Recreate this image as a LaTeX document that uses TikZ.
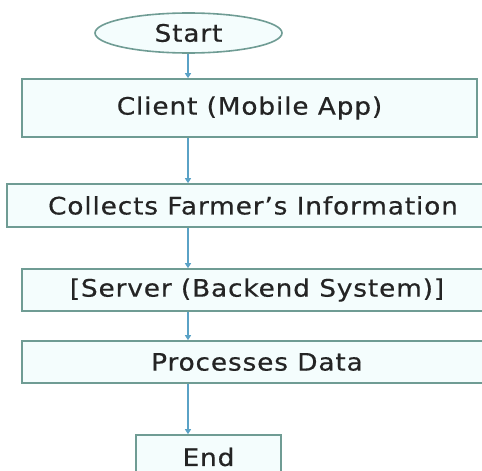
\documentclass[tikz,border=0pt]{standalone}
\usepackage{fontspec}
\setmainfont{DejaVu Sans}[LetterSpace=3.5,FakeStretch=1.1,FakeBold=0.5]
\usetikzlibrary{arrows.meta,shapes.geometric}
\definecolor{edgec}{HTML}{6F9C94}
\definecolor{fillc}{HTML}{F4FDFD}
\definecolor{arrc}{HTML}{5AA2C6}
\definecolor{txtc}{HTML}{242424}
\begin{document}
\begin{tikzpicture}[x=1pt,y=-1pt,
  boxs/.style={draw=edgec,fill=fillc,line width=1.6pt,inner sep=0pt,text=txtc,font=\fontsize{24}{26}\selectfont},
  arr/.style={draw=arrc,line width=1.3pt,-{Triangle[length=5pt,width=6pt]}}]
\useasboundingbox (0,0) rectangle (482,471);
\clip (0,0) rectangle (482,471);
\node[boxs,ellipse,minimum width=187,minimum height=40] (start) at (188.5,33) {Start};
\node[boxs,rectangle,minimum width=455,minimum height=58] (client) at (249.5,108) {Client (Mobile App)};
\node[boxs,rectangle,minimum width=492,minimum height=43] (collect) at (253,205.5) {Collects Farmer's Information};
\node[boxs,rectangle,minimum width=470,minimum height=42] (server) at (257,290) {[Server (Backend System)]};
\node[boxs,rectangle,minimum width=470,minimum height=42] (proc) at (257,362) {Processes Data};
\node[boxs,rectangle,minimum width=145,minimum height=44] (end) at (208.5,457) {End};
\draw[arr] (start.south -| 188,0) -- (client.north -| 188,0);
\draw[arr] (client.south -| 188,0) -- (collect.north -| 188,0);
\draw[arr] (collect.south -| 188,0) -- (server.north -| 188,0);
\draw[arr] (server.south -| 188,0) -- (proc.north -| 188,0);
\draw[arr] (proc.south -| 188,0) -- (end.north -| 188,0);
\end{tikzpicture}
\end{document}
